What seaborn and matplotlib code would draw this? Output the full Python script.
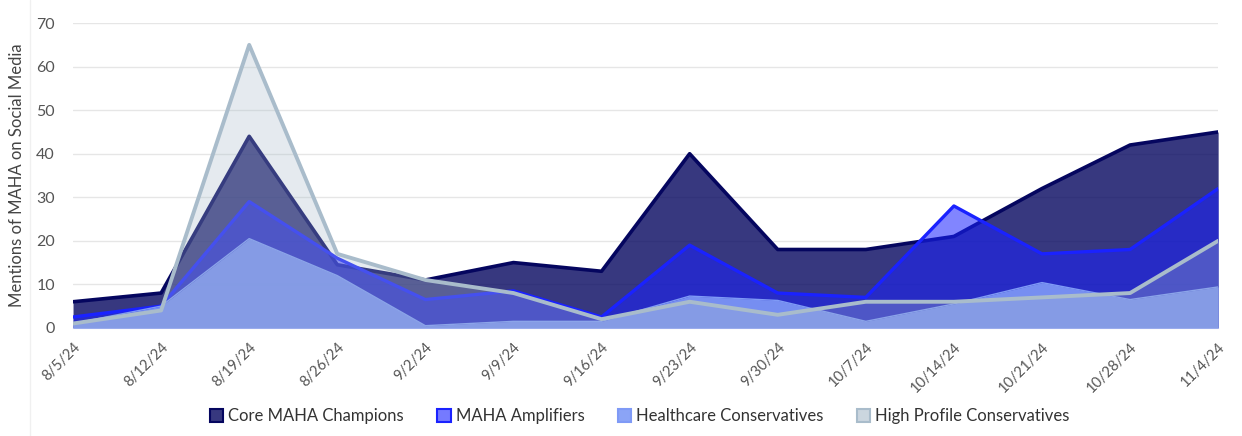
import numpy as np
import pandas as pd
import matplotlib.pyplot as plt
import seaborn as sns
from matplotlib.patches import Patch

dates = ["8/5/24", "8/12/24", "8/19/24", "8/26/24", "9/2/24", "9/9/24", "9/16/24",
         "9/23/24", "9/30/24", "10/7/24", "10/14/24", "10/21/24", "10/28/24", "11/4/24"]

core_champions = [6, 8, 44, 14.5, 11, 15, 13, 40, 18, 18, 21, 32, 42, 45]
amplifiers = [2.5, 5, 29, 16, 6.5, 8.5, 2.5, 19, 8, 7, 28, 17, 18, 32]
healthcare = [1, 5, 20.5, 12, 0.5, 1.5, 1.5, 7.3, 6.3, 1.5, 5.5, 10.4, 6.5, 9.4]
high_profile = [1, 4, 65, 17, 11, 8, 2, 6, 3, 6, 6, 7, 8, 20]

series_names = ["Core MAHA Champions", "MAHA Amplifiers",
                "Healthcare Conservatives", "High Profile Conservatives"]
line_colors = ["#05065f", "#1a22ff", "#7f9af6", "#a9bccb"]
fill_alpha = [0.8, 0.55, 0.9, 0.3]
line_widths = [2.6, 2.4, 1.0, 2.8]

df = pd.DataFrame({
    "x": np.tile(np.arange(len(dates)), 4),
    "value": core_champions + amplifiers + healthcare + high_profile,
    "series": np.repeat(series_names, len(dates)),
})

sns.set_style("white")
plt.rcParams["font.family"] = ["Lato", "DejaVu Sans"]

fig = plt.figure(figsize=(12.42, 4.36), dpi=100)
ax = fig.add_axes([0.0588, 0.248, 0.922, 0.699])

for i, name in enumerate(series_names):
    sub = df[df["series"] == name]
    ax.fill_between(sub["x"], 0, sub["value"], color=line_colors[i],
                    alpha=fill_alpha[i], linewidth=0, zorder=2 + 2 * i)
    sns.lineplot(data=sub, x="x", y="value", color=line_colors[i],
                 linewidth=line_widths[i], sort=False, ax=ax,
                 zorder=3 + 2 * i, legend=False)

ax.set_xlim(0, len(dates) - 1)
ax.set_ylim(0, 70)
ax.set_yticks(range(0, 71, 10))
ax.set_xticks(range(len(dates)))
ax.set_xticklabels(dates, rotation=45, ha="right", rotation_mode="anchor",
                   fontsize=10.5, color="#555555")
ax.tick_params(axis="y", labelsize=11.5, colors="#555555", length=0, pad=13)
ax.tick_params(axis="x", length=5, color="#ccd6eb", pad=4)
ax.grid(axis="y", color="#e6e6e6", linewidth=1, zorder=0)
ax.set_axisbelow(True)
for s in ["top", "right", "left"]:
    ax.spines[s].set_visible(False)
ax.spines["bottom"].set_color("#ccd6eb")
ax.set_xlabel("")
ax.set_ylabel("Mentions of MAHA on Social Media", fontsize=12, color="#444444", labelpad=8)

handles = [Patch(facecolor=c, edgecolor=c, linewidth=1.5) for c in line_colors]
for h, c, a in zip(handles, line_colors, fill_alpha):
    h.set_facecolor(plt.matplotlib.colors.to_rgba(c, max(a, 0.6)))
fig.legend(handles, series_names, loc="center", bbox_to_anchor=(0.515, 0.045),
           ncol=4, frameon=False, fontsize=12, handlelength=0.8, handleheight=0.8,
           handletextpad=0.3, columnspacing=2.0, labelcolor="#333333")

fig.add_artist(plt.Line2D([0.024, 0.024], [0.0, 1.0], color="#f0f0f0", linewidth=1))

fig.savefig("out.png", dpi=100)
